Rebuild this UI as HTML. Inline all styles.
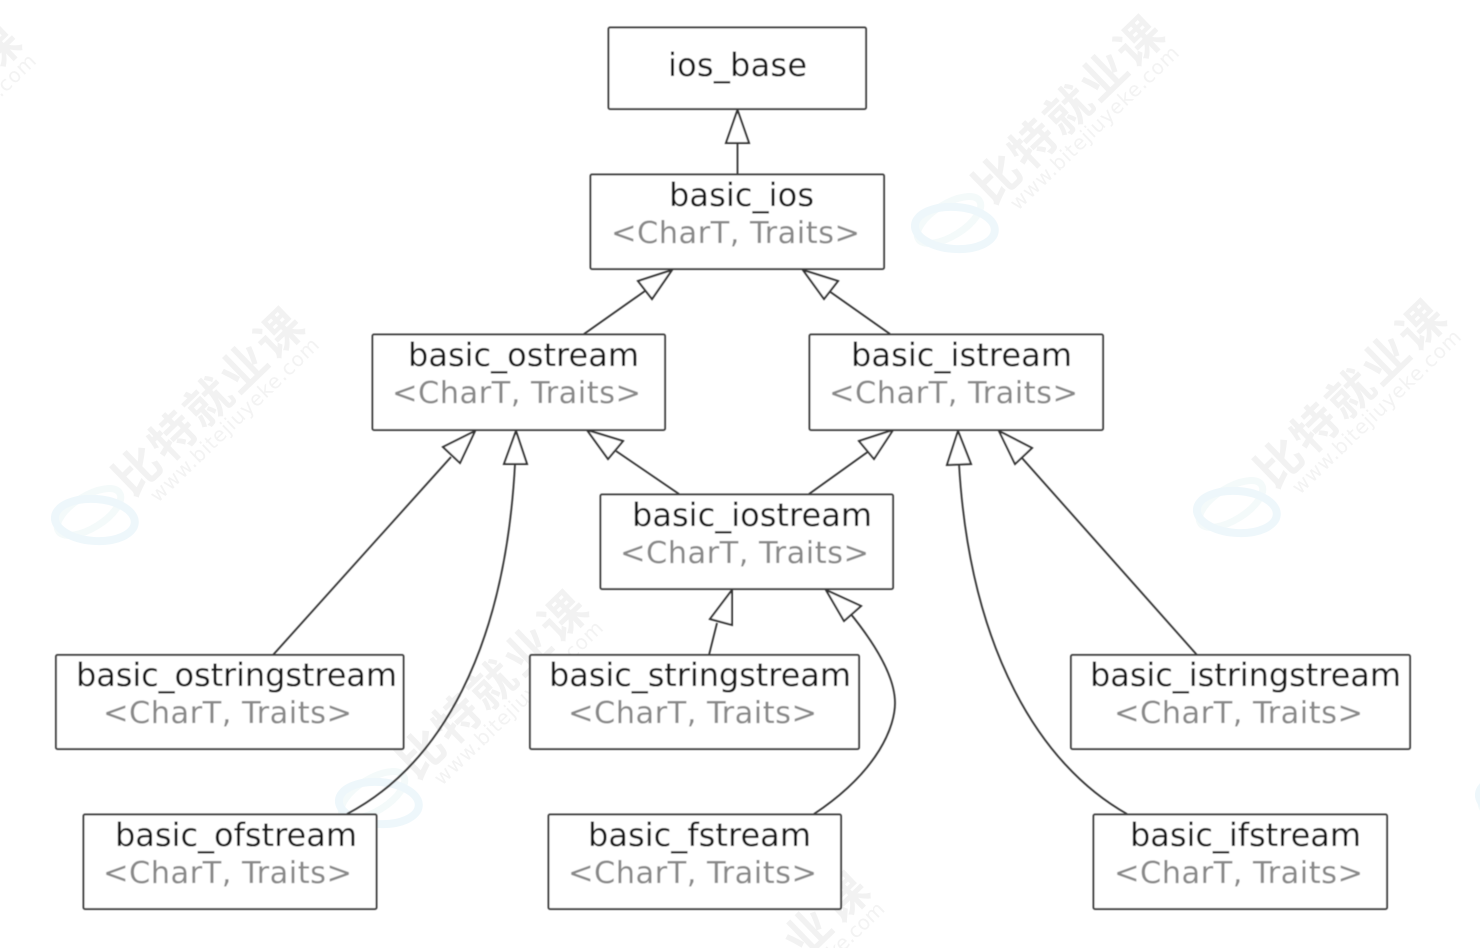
<!DOCTYPE html>
<html>
<head>
<meta charset="utf-8">
<style>
html,body{margin:0;padding:0;background:#fff;width:1480px;height:948px;overflow:hidden}
#f{position:relative;width:1480px;height:948px;overflow:hidden}
svg{display:block}
.t{font-family:"DejaVu Sans",sans-serif;font-size:32px;fill:#151515}
.g{font-family:"DejaVu Sans",sans-serif;font-size:30.5px;fill:#888}
.b{fill:#fff;stroke:#3c3c3c;stroke-width:2}
.l{fill:none;stroke:#333;stroke-width:1.8}
.a{fill:#fff;stroke:#333;stroke-width:2;stroke-linejoin:miter}
.wm{font-family:"Noto Sans CJK SC","WenQuanYi Zen Hei",sans-serif;font-size:46px;font-weight:700;fill:#f2f2f2}
.wu{font-family:"DejaVu Sans",sans-serif;font-size:20px;fill:#f3f3f3}
.lg{fill:none;stroke:#eef7fb;stroke-width:8}
.lh{fill:none;stroke:#f4fafa;stroke-width:7}
</style>
</head>
<body>
<div id="f">
<svg width="1480" height="948" viewBox="0 0 1480 948" xmlns="http://www.w3.org/2000/svg">
<defs><filter id="s" x="-2%" y="-2%" width="104%" height="104%"><feGaussianBlur stdDeviation="0.45"/></filter></defs>

<!-- watermarks -->
<g>
  <g transform="translate(1067.5,110) rotate(-44)"><text class="wm" x="-121" y="17" textLength="243">比特就业课</text></g>
  <g transform="translate(1095,128.5) rotate(-44)"><text class="wu" x="-113" y="6" textLength="226">www.bitejiuyeke.com</text></g>

  <g transform="translate(207.5,402) rotate(-44)"><text class="wm" x="-121" y="17" textLength="243">比特就业课</text></g>
  <g transform="translate(235,420.5) rotate(-44)"><text class="wu" x="-113" y="6" textLength="226">www.bitejiuyeke.com</text></g>

  <g transform="translate(1349.5,394) rotate(-44)"><text class="wm" x="-121" y="17" textLength="243">比特就业课</text></g>
  <g transform="translate(1377,412.5) rotate(-44)"><text class="wu" x="-113" y="6" textLength="226">www.bitejiuyeke.com</text></g>

  <g transform="translate(491.5,685) rotate(-44)"><text class="wm" x="-121" y="17" textLength="243">比特就业课</text></g>
  <g transform="translate(519,703.5) rotate(-44)"><text class="wu" x="-113" y="6" textLength="226">www.bitejiuyeke.com</text></g>

  <g transform="translate(773,966) rotate(-44)"><text class="wm" x="24.8" y="17" textLength="97">业课</text></g>
  <g transform="translate(800.5,984.5) rotate(-44)"><text class="wu" x="18" y="6" textLength="95">yeke.com</text></g>

  <g transform="translate(-75.5,118) rotate(-44)"><text class="wm" x="-121" y="17" textLength="243">比特就业课</text></g>
  <g transform="translate(-48,136.5) rotate(-44)"><text class="wu" x="-113" y="6" textLength="226">www.bitejiuyeke.com</text></g>

  <g transform="translate(955,226)"><ellipse class="lh" cx="-6" cy="-6" rx="36" ry="16" transform="rotate(-32 -6 -6)"/><ellipse class="lg" cx="0" cy="2" rx="40" ry="21" transform="rotate(4)"/></g>
  <g transform="translate(95,518)"><ellipse class="lh" cx="-6" cy="-6" rx="36" ry="16" transform="rotate(-32 -6 -6)"/><ellipse class="lg" cx="0" cy="2" rx="40" ry="21" transform="rotate(4)"/></g>
  <g transform="translate(1237,510)"><ellipse class="lh" cx="-6" cy="-6" rx="36" ry="16" transform="rotate(-32 -6 -6)"/><ellipse class="lg" cx="0" cy="2" rx="40" ry="21" transform="rotate(4)"/></g>
  <g transform="translate(379,801)"><ellipse class="lh" cx="-6" cy="-6" rx="36" ry="16" transform="rotate(-32 -6 -6)"/><ellipse class="lg" cx="0" cy="2" rx="40" ry="21" transform="rotate(4)"/></g>
  <g transform="translate(1519,795)"><ellipse class="lh" cx="-6" cy="-6" rx="36" ry="16" transform="rotate(-32 -6 -6)"/><ellipse class="lg" cx="0" cy="2" rx="40" ry="21" transform="rotate(4)"/></g>
</g>

<g filter="url(#s)">
<!-- connectors -->
<path class="l" d="M737.5 174V143"/>
<path class="l" d="M584 334L645 291"/>
<path class="l" d="M890 334L829 291"/>
<path class="l" d="M679 494L616 451"/>
<path class="l" d="M809 494L869 451"/>
<path class="l" d="M273 655L451 457"/>
<path class="l" d="M347 814C440 765 505 650 515 464"/>
<path class="l" d="M709 655L717 623"/>
<path class="l" d="M814 814C880 770 895 725 895 703C895 680 880 650 850 613"/>
<path class="l" d="M1197 655L1022 458"/>
<path class="l" d="M1127 814C1040 765 970 650 959 464"/>

<!-- arrowheads -->
<polygon class="a" points="737.5,110 726,143 749,143"/>
<polygon class="a" points="672,270 638,281 652,299"/>
<polygon class="a" points="803,270 824,299 838,281"/>
<polygon class="a" points="587,430 608,459 623,441"/>
<polygon class="a" points="893,430 859,441 874,459"/>
<polygon class="a" points="475,431 443,447 460,463"/>
<polygon class="a" points="516,431 504,464 527,464"/>
<polygon class="a" points="732,590 710,619 732,625"/>
<polygon class="a" points="826,590 844,621 861,606"/>
<polygon class="a" points="999,431 1015,464 1032,448"/>
<polygon class="a" points="958,431 947,465 971,464"/>

<!-- boxes -->
<rect class="b" x="608.5" y="27.5" width="257.5" height="81.5" rx="1.5"/>
<rect class="b" x="590.5" y="174.5" width="293.5" height="94.5" rx="1.5"/>
<rect class="b" x="372.5" y="334.5" width="292.5" height="95.5" rx="1.5"/>
<rect class="b" x="809.5" y="334.5" width="293.5" height="95.5" rx="1.5"/>
<rect class="b" x="600.5" y="494.5" width="292.5" height="94.5" rx="1.5"/>
<rect class="b" x="56" y="655" width="347.5" height="94" rx="1.5"/>
<rect class="b" x="530" y="655" width="329" height="94" rx="1.5"/>
<rect class="b" x="1071" y="655" width="339" height="94" rx="1.5"/>
<rect class="b" x="83.5" y="814.5" width="293" height="94.5" rx="1.5"/>
<rect class="b" x="548.5" y="814.5" width="292.5" height="94.5" rx="1.5"/>
<rect class="b" x="1093.5" y="814.5" width="293.5" height="94.5" rx="1.5"/>

<!-- labels -->
<text class="t" x="668" y="76" textLength="139">ios_base</text>
<text class="t" x="669" y="206" textLength="145">basic_ios</text>
<text class="g" x="611" y="243" textLength="249">&lt;CharT, Traits&gt;</text>
<text class="t" x="408" y="366" textLength="231">basic_ostream</text>
<text class="g" x="392" y="403" textLength="249">&lt;CharT, Traits&gt;</text>
<text class="t" x="851" y="366" textLength="221">basic_istream</text>
<text class="g" x="829" y="403" textLength="249">&lt;CharT, Traits&gt;</text>
<text class="t" x="632" y="526" textLength="240">basic_iostream</text>
<text class="g" x="620" y="563" textLength="249">&lt;CharT, Traits&gt;</text>
<text class="t" x="76" y="686" textLength="321">basic_ostringstream</text>
<text class="g" x="103" y="723" textLength="249">&lt;CharT, Traits&gt;</text>
<text class="t" x="549" y="686" textLength="302">basic_stringstream</text>
<text class="g" x="568" y="723" textLength="249">&lt;CharT, Traits&gt;</text>
<text class="t" x="1090" y="686" textLength="311">basic_istringstream</text>
<text class="g" x="1114" y="723" textLength="249">&lt;CharT, Traits&gt;</text>
<text class="t" x="115" y="846" textLength="242">basic_ofstream</text>
<text class="g" x="103" y="883" textLength="249">&lt;CharT, Traits&gt;</text>
<text class="t" x="588" y="846" textLength="223">basic_fstream</text>
<text class="g" x="568" y="883" textLength="249">&lt;CharT, Traits&gt;</text>
<text class="t" x="1130" y="846" textLength="231">basic_ifstream</text>
<text class="g" x="1114" y="883" textLength="249">&lt;CharT, Traits&gt;</text>
</g>
</svg>
</div>
</body>
</html>
